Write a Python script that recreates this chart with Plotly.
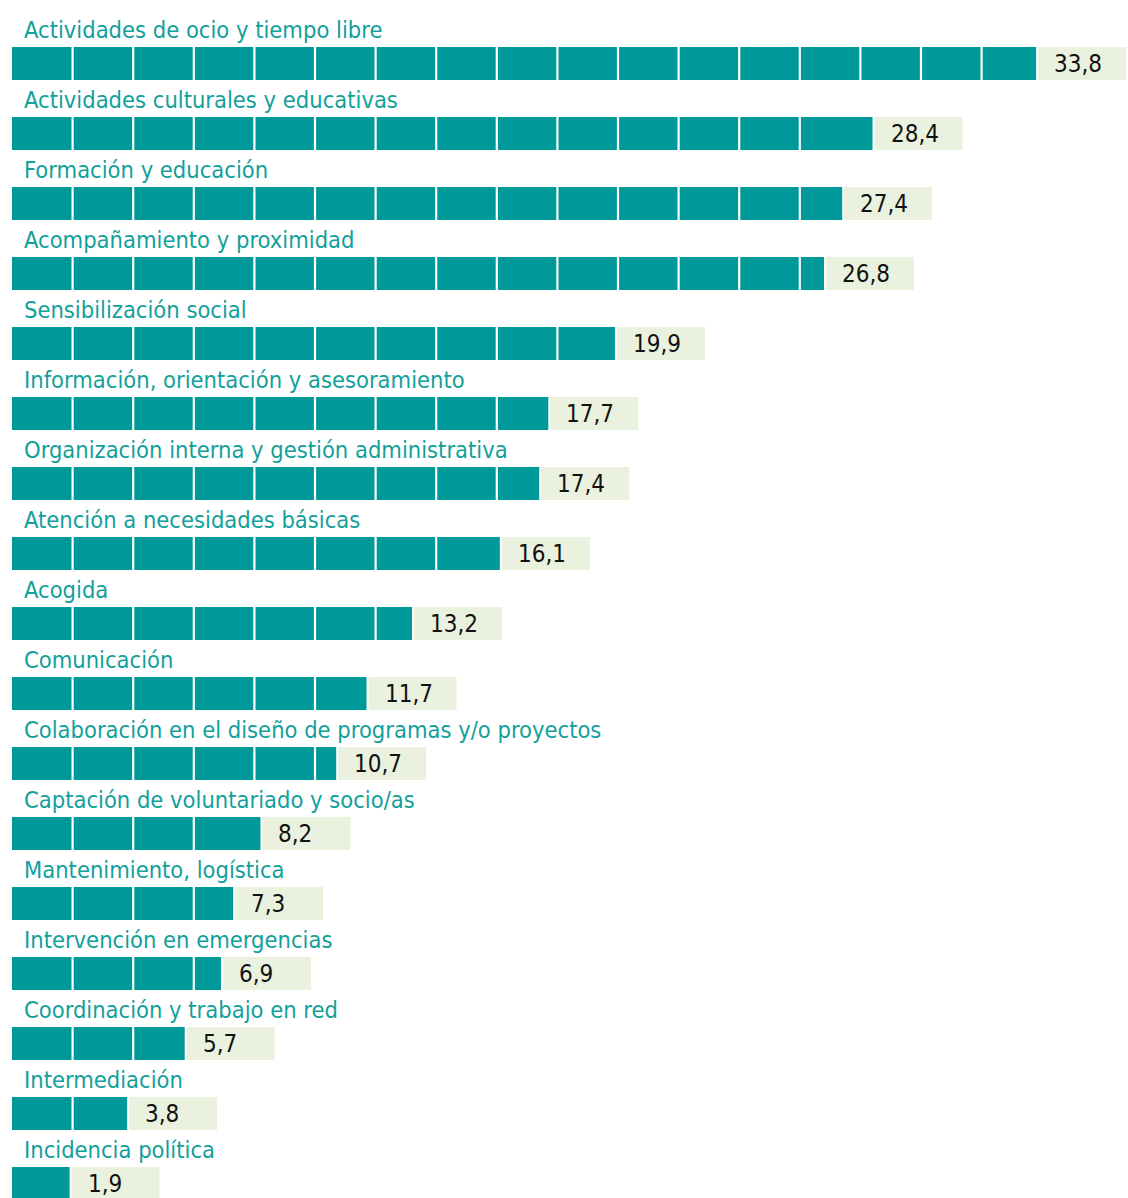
import plotly.graph_objects as go

# Share of volunteers by activity area (%)
categories = [
    "Actividades de ocio y tiempo libre",
    "Actividades culturales y educativas",
    "Formación y educación",
    "Acompañamiento y proximidad",
    "Sensibilización social",
    "Información, orientación y asesoramiento",
    "Organización interna y gestión administrativa",
    "Atención a necesidades básicas",
    "Acogida",
    "Comunicación",
    "Colaboración en el diseño de programas y/o proyectos",
    "Captación de voluntariado y socio/as",
    "Mantenimiento, logística",
    "Intervención en emergencias",
    "Coordinación y trabajo en red",
    "Intermediación",
    "Incidencia política",
]
values = [33.8, 28.4, 27.4, 26.8, 19.9, 17.7, 17.4, 16.1, 13.2, 11.7,
          10.7, 8.2, 7.3, 6.9, 5.7, 3.8, 1.9]
value_labels = [f"{v:.1f}".replace(".", ",") for v in values]

TEAL = "#009999"
BOX = "#eaf1de"
FONT = "Liberation Sans Narrow, Arial Narrow, DejaVu Sans Condensed, sans-serif"

W, H = 1128, 1198
X0_PX = 12          # left edge of the bars
PX_PER_UNIT = 30.3  # horizontal scale
ROW_PX = 70         # row pitch
FIRST_CENTER = 63.5 # centre of first bar, px from top
BAR_PX = 33

rows = list(range(len(categories)))
bar_w = BAR_PX / ROW_PX
gap = 2 / PX_PER_UNIT
box_len = 88 / PX_PER_UNIT

fig = go.Figure()

# teal bars
fig.add_trace(go.Bar(
    y=rows, x=values, orientation="h", width=bar_w,
    marker=dict(color=TEAL, line=dict(width=0)),
    hoverinfo="skip", showlegend=False,
))
# light label boxes just after each bar
fig.add_trace(go.Bar(
    y=rows, x=[box_len] * len(values), base=[v + gap for v in values],
    orientation="h", width=bar_w,
    marker=dict(color=BOX, line=dict(width=0)),
    hoverinfo="skip", showlegend=False,
))

STEP = 2.0
shapes = []
annotations = []
for i, (cat, v, lab) in enumerate(zip(categories, values, value_labels)):
    # white separators splitting each bar into blocks
    k = STEP
    while k < v - 0.5:
        shapes.append(dict(
            type="line", xref="x", yref="y", x0=k, x1=k,
            y0=i - bar_w / 2, y1=i + bar_w / 2,
            line=dict(color="white", width=2.2), layer="above",
        ))
        k += STEP
    # category name above the bar
    annotations.append(dict(
        x=22 / W, xref="paper", y=i, yref="y", yshift=33.5,
        text=cat, showarrow=False, xanchor="left", yanchor="middle",
        font=dict(family=FONT, size=23.5, color="#11a09b"),
    ))
    # value inside the box
    annotations.append(dict(
        x=v + gap, xref="x", y=i, yref="y", xshift=14,
        text=lab, showarrow=False, xanchor="left", yanchor="middle",
        font=dict(family=FONT, size=24, color="#111111"),
    ))

x_lo = -X0_PX / PX_PER_UNIT
x_hi = (W - X0_PX) / PX_PER_UNIT
y_top = -FIRST_CENTER / ROW_PX
y_bot = (H - FIRST_CENTER) / ROW_PX

fig.update_layout(
    width=W, height=H,
    margin=dict(l=0, r=0, t=0, b=0),
    paper_bgcolor="white", plot_bgcolor="white",
    barmode="overlay",
    xaxis=dict(range=[x_lo, x_hi], visible=False, fixedrange=True),
    yaxis=dict(range=[y_bot, y_top], visible=False, fixedrange=True),
    shapes=shapes, annotations=annotations,
)

fig.write_html("out.html", config={"displayModeBar": False})
